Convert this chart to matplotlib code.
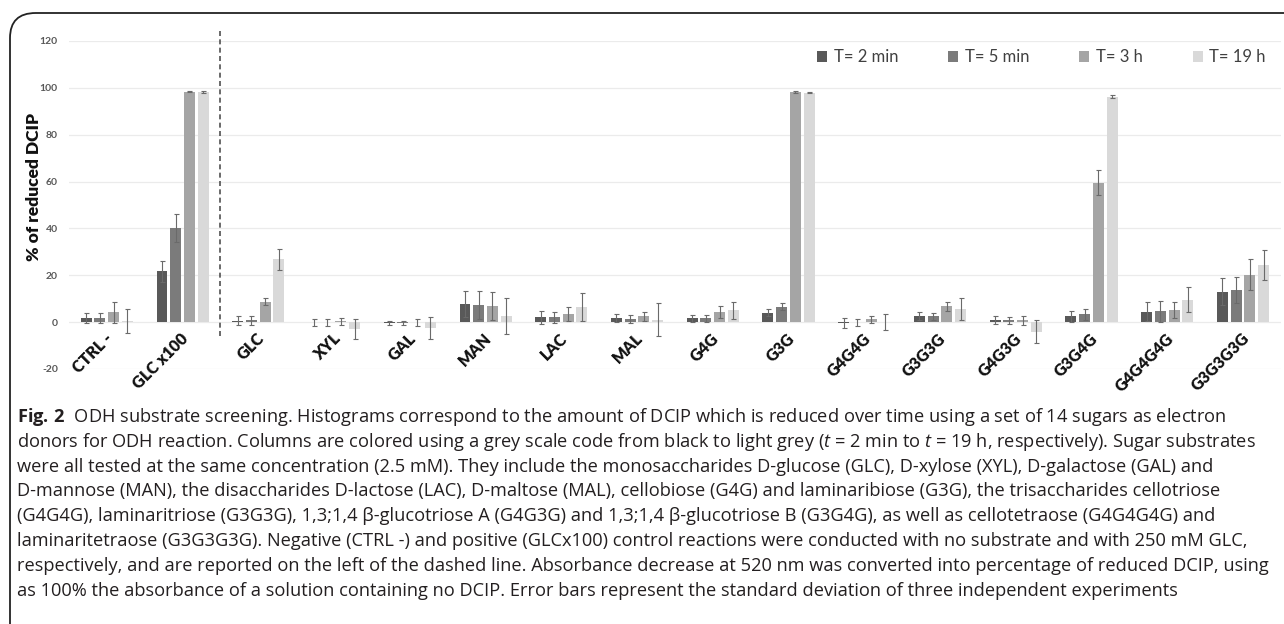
import numpy as np
import matplotlib
matplotlib.use('Agg')
from matplotlib import pyplot as plt
from matplotlib.patches import FancyBboxPatch

# sugars tested (left of dashed line = controls)
cats = ['CTRL -', 'GLC x100', 'GLC', 'XYL', 'GAL', 'MAN', 'LAC', 'MAL', 'G4G', 'G3G',
        'G4G4G', 'G3G3G', 'G4G3G', 'G3G4G', 'G4G4G4G', 'G3G3G3G']
series = ['T= 2 min', 'T= 5 min', 'T= 3 h', 'T= 19 h']

t2 = [1.7, 21.7, 0.6, 0.0, -0.4, 7.7, 2.1, 1.7, 1.7, 3.9, -0.3, 2.6, 0.9, 2.4, 4.4, 13.0]
t5 = [1.7, 40.2, 0.8, 0.0, -0.4, 7.4, 2.0, 1.4, 1.7, 6.6, 0.0, 2.4, 0.7, 3.4, 4.6, 13.7]
t3h = [4.3, 98.4, 8.8, 0.3, 0.0, 6.7, 3.4, 2.4, 4.3, 98.3, 1.2, 6.8, 0.7, 59.5, 5.3, 20.2]
t19h = [0.4, 98.3, 26.9, -3.0, -2.5, 2.6, 6.4, 1.1, 5.0, 98.0, 0.0, 5.7, -4.1, 96.2, 9.5, 24.4]

e2 = [2.0, 4.4, 1.8, 1.5, 0.8, 5.7, 2.7, 1.6, 1.5, 1.5, 2.0, 1.7, 1.5, 2.3, 4.1, 5.8]
e5 = [2.0, 5.8, 2.0, 1.5, 0.8, 6.0, 2.4, 1.6, 1.5, 1.5, 1.5, 1.7, 1.5, 2.3, 4.4, 5.7]
e3h = [4.5, 0.3, 1.7, 1.5, 1.5, 6.0, 2.9, 2.0, 2.5, 0.3, 1.5, 2.0, 2.0, 5.3, 3.4, 6.6]
e19h = [5.0, 0.3, 4.5, 4.3, 4.5, 7.5, 6.0, 7.0, 3.8, 0.3, 3.5, 4.7, 5.0, 0.6, 5.3, 6.4]

yticks = [-20, 0, 20, 40, 60, 80, 100, 120]

caption = [
    r"$\mathbf{Fig.\,2}$  ODH substrate screening. Histograms correspond to the amount of DCIP which is reduced over time using a set of 14 sugars as electron",
    r"donors for ODH reaction. Columns are colored using a grey scale code from black to light grey ($\mathit{t}$ = 2 min to $\mathit{t}$ = 19 h, respectively). Sugar substrates",
    "were all tested at the same concentration (2.5 mM). They include the monosaccharides D-glucose (GLC), D-xylose (XYL), D-galactose (GAL) and",
    "D-mannose (MAN), the disaccharides D-lactose (LAC), D-maltose (MAL), cellobiose (G4G) and laminaribiose (G3G), the trisaccharides cellotriose",
    "(G4G4G), laminaritriose (G3G3G), 1,3;1,4 β-glucotriose A (G4G3G) and 1,3;1,4 β-glucotriose B (G3G4G), as well as cellotetraose (G4G4G4G) and",
    "laminaritetraose (G3G3G3G). Negative (CTRL -) and positive (GLCx100) control reactions were conducted with no substrate and with 250 mM GLC,",
    "respectively, and are reported on the left of the dashed line. Absorbance decrease at 520 nm was converted into percentage of reduced DCIP, using",
    "as 100% the absorbance of a solution containing no DCIP. Error bars represent the standard deviation of three independent experiments",
]

plt.rcParams['font.family'] = ['Lato', 'DejaVu Sans']
plt.rcParams['mathtext.fontset'] = 'custom'
plt.rcParams['mathtext.rm'] = 'Open Sans'
plt.rcParams['mathtext.it'] = 'Open Sans:italic'
plt.rcParams['mathtext.bf'] = 'Open Sans:bold'

fig = plt.figure(figsize=(12.84, 6.24), dpi=100)
ax = fig.add_axes([0.0537, 0.4087, 0.9439, 0.5256])

x = np.arange(len(cats))
vals = [t2, t5, t3h, t19h]
errs = [e2, e5, e3h, e19h]
colors = ['#595959', '#7b7b7b', '#a5a5a5', '#d9d9d9']
w = 0.145
step = 0.181
for i in range(4):
    pos = x + (i - 1.5) * step
    ax.bar(pos, vals[i], w, color=colors[i], label=series[i], zorder=2)
    ax.errorbar(pos, vals[i], yerr=errs[i], fmt='none', ecolor='#6a6a6a',
                elinewidth=0.8, capsize=1.8, capthick=0.8, zorder=3)

ax.set_xlim(-0.5, len(cats) - 0.5)
ax.set_ylim(-20, 120)
ax.set_yticks(yticks)
ax.set_yticklabels([str(v) for v in yticks], fontsize=7.5, fontweight='bold', color='#595959')
ax.tick_params(axis='y', length=0, pad=8)
ax.set_xticks([])
ax.grid(axis='y', color='#ebebeb', linewidth=0.9, zorder=0)
ax.set_axisbelow(True)
for s in ax.spines.values():
    s.set_visible(False)

# category labels hang below the zero line
for i, c in enumerate(cats):
    ax.text(i - 0.03, -3.5, c, rotation=45, ha='right', va='top', rotation_mode='anchor',
            fontsize=11.5, fontweight='heavy', color='#111111')

ax.set_ylabel('% of reduced DCIP', fontsize=12.5, fontweight='heavy', color='#111111')
ax.yaxis.set_label_coords(-0.022, 0.555)

# dashed separator between controls and substrates
ax.plot([1.5, 1.5], [-6, 125], ls=(0, (3, 2)), color='#505050', lw=1.2, clip_on=False, zorder=4)

leg = ax.legend(loc='upper right', bbox_to_anchor=(1.0, 1.02), ncol=4, frameon=False,
                fontsize=12, handlelength=0.6, handleheight=0.6, handletextpad=0.4,
                columnspacing=3.0, labelcolor='#404040')

# outer frame
box = FancyBboxPatch((10 / 1284, -0.1), 1.2, 1.1 - 13 / 624,
                     boxstyle='round,pad=0,rounding_size=0.02', transform=fig.transFigure,
                     fill=False, edgecolor='#222222', linewidth=1.3, clip_on=False,
                     mutation_aspect=2.0)
fig.patches.append(box)

# caption, fitted to the reference line width
r = fig.canvas.get_renderer()
probe = fig.text(0, 0, caption[6], fontsize=10, family='Open Sans')
wpx = probe.get_window_extent(r).width
probe.remove()
fs = 10 * 1252 / wpx
y0 = 417
for k, line in enumerate(caption):
    fig.text(17 / 1284, 1 - (y0 + k * 24.8) / 624, line, fontsize=fs, family='Open Sans',
             color='#231f20', va='center', ha='left')

fig.savefig('out.png', dpi=100)
